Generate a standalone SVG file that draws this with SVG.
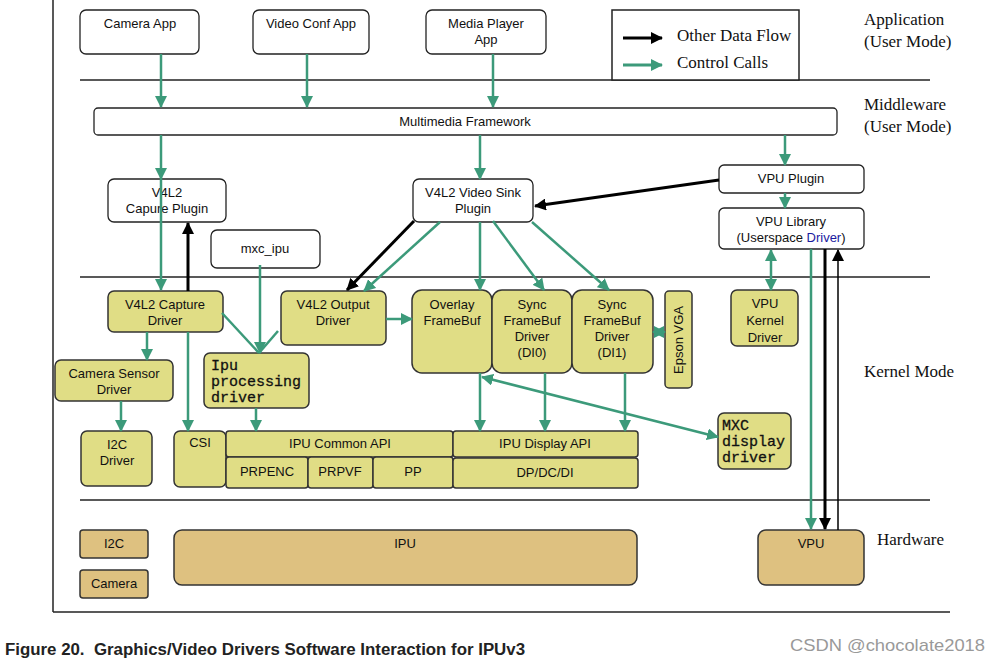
<svg xmlns="http://www.w3.org/2000/svg" width="999" height="661" viewBox="0 0 999 661">
<defs>
<marker id="ga" markerUnits="userSpaceOnUse" markerWidth="12" markerHeight="12" viewBox="0 0 12 12" refX="11" refY="6" orient="auto-start-reverse"><path d="M0,0 L12,6 L0,12 z" fill="#3c9a7a"/></marker>
<marker id="ba" markerUnits="userSpaceOnUse" markerWidth="12" markerHeight="12" viewBox="0 0 12 12" refX="11" refY="6" orient="auto-start-reverse"><path d="M0,0 L12,6 L0,12 z" fill="#000"/></marker>
<style>
.w{fill:#fff;stroke:#222;stroke-width:1.3}
.y{fill:#e0dd85;stroke:#333;stroke-width:1.5}
.t{fill:#dec180;stroke:#333;stroke-width:1.5}
.s{font-family:"Liberation Sans",Arial,sans-serif;font-size:13px;fill:#111;text-anchor:middle}
.m{font-family:"Liberation Mono","Courier New",monospace;font-size:15px;fill:#111;stroke:#111;stroke-width:0.3}
.r{font-family:"Liberation Serif","Times New Roman",serif;font-size:17px;fill:#111}
.g{stroke:#3c9a7a;stroke-width:2.5;fill:none}
.gm{stroke:#3c9a7a;stroke-width:2.5;fill:none;marker-end:url(#ga)}
.gd{stroke:#3c9a7a;stroke-width:2.5;fill:none;marker-end:url(#ga);marker-start:url(#ga)}
.bm{stroke:#000;stroke-width:3;fill:none;marker-end:url(#ba)}
.ln{stroke:#222;stroke-width:1.5}
</style>
</defs>
<rect width="999" height="661" fill="#fff"/>
<g id="frame">
<line class="ln" x1="53" y1="0" x2="53" y2="612"/>
<line class="ln" x1="53" y1="612" x2="950" y2="612"/>
<line class="ln" x1="80" y1="80" x2="930" y2="80"/>
<line class="ln" x1="80" y1="277" x2="930" y2="277"/>
<line class="ln" x1="80" y1="500" x2="930" y2="500"/>
</g>
<g id="legend">
<rect x="612" y="10" width="187" height="70" fill="#fff" stroke="#222" stroke-width="1.5"/>
<line x1="623" y1="38" x2="662" y2="38" class="bm"/>
<line x1="623" y1="65" x2="662" y2="65" class="gm" style="stroke-width:3"/>
<text class="r" x="677" y="41">Other Data Flow</text>
<text class="r" x="677" y="68">Control Calls</text>
</g>
<g id="layer-labels">
<text class="r" x="864" y="25">Application</text>
<text class="r" x="864" y="47">(User Mode)</text>
<text class="r" x="864" y="110">Middleware</text>
<text class="r" x="864" y="132">(User Mode)</text>
<text class="r" x="864" y="377">Kernel Mode</text>
<text class="r" x="877" y="545">Hardware</text>
</g>
<g id="camera-app"><rect class="w" x="80" y="10" width="119" height="44" rx="6"/><text class="s" x="140" y="28">Camera App</text></g>
<g id="video-conf-app"><rect class="w" x="253" y="10" width="116" height="44" rx="6"/><text class="s" x="311" y="28">Video Conf App</text></g>
<g id="media-player-app"><rect class="w" x="426" y="10" width="120" height="44" rx="6"/><text class="s" x="486" y="28">Media Player</text><text class="s" x="486" y="44">App</text></g>
<g id="multimedia-framework"><rect class="w" x="94" y="108" width="743" height="27" rx="4"/><text class="s" x="465" y="126">Multimedia Framework</text></g>
<g id="v4l2-capure-plugin"><rect class="w" x="108" y="179" width="118" height="43" rx="6"/><text class="s" x="167" y="197">V4L2</text><text class="s" x="167" y="213">Capure Plugin</text></g>
<g id="mxc-ipu"><rect class="w" x="211" y="230" width="109" height="38" rx="6"/><text class="s" x="265" y="253">mxc_ipu</text></g>
<g id="v4l2-video-sink-plugin"><rect class="w" x="413" y="179" width="120" height="43" rx="6"/><text class="s" x="473" y="197">V4L2 Video Sink</text><text class="s" x="473" y="213">Plugin</text></g>
<g id="vpu-plugin"><rect class="w" x="719" y="165" width="145" height="28" rx="5"/><text class="s" x="791" y="183">VPU Plugin</text></g>
<g id="vpu-library"><rect class="w" x="719" y="208" width="145" height="41" rx="5"/><text class="s" x="791" y="226">VPU Library</text><text class="s" x="791" y="242">(Userspace <tspan fill="#1a1aa0">Driver</tspan>)</text></g>
<g id="v4l2-capture-driver"><rect class="y" x="108" y="291" width="115" height="41" rx="6"/><text class="s" x="165" y="309">V4L2 Capture</text><text class="s" x="165" y="325">Driver</text></g>
<g id="v4l2-output-driver"><rect class="y" x="281" y="291" width="105" height="54" rx="6"/><text class="s" x="333" y="309">V4L2 Output</text><text class="s" x="333" y="325">Driver</text></g>
<g id="camera-sensor-driver"><rect class="y" x="55" y="360" width="118" height="41" rx="6"/><text class="s" x="114" y="378">Camera Sensor</text><text class="s" x="114" y="394">Driver</text></g>
<g id="ipu-processing-driver"><rect class="y" x="204" y="353" width="105" height="55" rx="6"/><text class="m" x="211" y="370">Ipu</text><text class="m" x="211" y="386">processing</text><text class="m" x="211" y="402">driver</text></g>
<g id="i2c-driver"><rect class="y" x="81" y="431" width="71" height="55" rx="6"/><text class="s" x="117" y="449">I2C</text><text class="s" x="117" y="465">Driver</text></g>
<g id="csi"><rect class="y" x="174" y="431" width="52" height="56" rx="6"/><text class="s" x="200" y="447">CSI</text></g>
<g id="ipu-common-api"><rect class="y" x="226" y="431" width="227" height="26" rx="3"/><text class="s" x="340" y="448">IPU Common API</text></g>
<g id="prpenc"><rect class="y" x="226" y="457" width="82" height="31" rx="3"/><text class="s" x="267" y="476">PRPENC</text></g>
<g id="prpvf"><rect class="y" x="308" y="457" width="65" height="31" rx="3"/><text class="s" x="340" y="476">PRPVF</text></g>
<g id="pp"><rect class="y" x="373" y="457" width="80" height="31" rx="3"/><text class="s" x="413" y="476">PP</text></g>
<g id="ipu-display-api"><rect class="y" x="453" y="431" width="185" height="26" rx="3"/><text class="s" x="545" y="448">IPU Display API</text></g>
<g id="dp-dc-di"><rect class="y" x="453" y="458" width="185" height="30" rx="3"/><text class="s" x="545" y="477">DP/DC/DI</text></g>
<g id="overlay-framebuf"><rect class="y" x="412" y="290" width="80" height="83" rx="10"/><text class="s" x="452" y="309">Overlay</text><text class="s" x="452" y="325">FrameBuf</text></g>
<g id="sync-framebuf-di0"><rect class="y" x="492" y="290" width="80" height="83" rx="10"/><text class="s" x="532" y="309">Sync</text><text class="s" x="532" y="325">FrameBuf</text><text class="s" x="532" y="341">Driver</text><text class="s" x="532" y="357">(DI0)</text></g>
<g id="sync-framebuf-di1"><rect class="y" x="572" y="290" width="81" height="83" rx="10"/><text class="s" x="612" y="309">Sync</text><text class="s" x="612" y="325">FrameBuf</text><text class="s" x="612" y="341">Driver</text><text class="s" x="612" y="357">(DI1)</text></g>
<g id="epson-vga"><rect class="y" x="665" y="291" width="27" height="97" rx="4"/><text class="s" transform="translate(683 340) rotate(-90)">Epson VGA</text></g>
<g id="vpu-kernel-driver"><rect class="y" x="731" y="290" width="67" height="56" rx="6"/><text class="s" x="765" y="308">VPU</text><text class="s" x="765" y="325">Kernel</text><text class="s" x="765" y="342">Driver</text></g>
<g id="mxc-display-driver"><rect class="y" x="718" y="413" width="73" height="56" rx="6"/><text class="m" x="722" y="430">MXC</text><text class="m" x="722" y="446">display</text><text class="m" x="722" y="462">driver</text></g>
<g id="hw-i2c"><rect class="t" x="80" y="530" width="68" height="28" rx="3"/><text class="s" x="114" y="548">I2C</text></g>
<g id="hw-camera"><rect class="t" x="80" y="570" width="68" height="28" rx="3"/><text class="s" x="114" y="588">Camera</text></g>
<g id="hw-ipu"><rect class="t" x="174" y="530" width="463" height="55" rx="8"/><text class="s" x="405" y="548">IPU</text></g>
<g id="hw-vpu"><rect class="t" x="758" y="530" width="106" height="55" rx="8"/><text class="s" x="811" y="548">VPU</text></g>
<g id="connectors">
<line class="gm" x1="161" y1="54" x2="161" y2="107"/>
<line class="gm" x1="307" y1="54" x2="307" y2="107"/>
<line class="gm" x1="493" y1="54" x2="493" y2="107"/>
<line class="gm" x1="161" y1="135" x2="161" y2="179"/>
<line class="gm" x1="161" y1="179" x2="161" y2="290"/>
<line class="gm" x1="480" y1="135" x2="480" y2="179"/>
<line class="gm" x1="785" y1="135" x2="785" y2="165"/>
<line class="gm" x1="785" y1="193" x2="785" y2="208"/>
<line class="bm" x1="188" y1="291" x2="188" y2="223"/>
<line class="bm" x1="719" y1="180" x2="535" y2="206"/>
<line class="bm" x1="414" y1="221" x2="347" y2="290"/>
<line class="gm" x1="440" y1="222" x2="364" y2="291"/>
<line class="gm" x1="480" y1="222" x2="480" y2="290"/>
<line class="gm" x1="493" y1="221" x2="544" y2="290"/>
<line class="gm" x1="532" y1="222" x2="609" y2="290"/>
<line class="gm" x1="260" y1="265" x2="260" y2="353"/>
<line class="g" x1="222" y1="313" x2="259" y2="353"/>
<line class="g" x1="278" y1="331" x2="259" y2="353"/>
<line class="gm" x1="147" y1="332" x2="147" y2="360"/>
<line class="gm" x1="188" y1="332" x2="188" y2="431"/>
<line class="gm" x1="121" y1="401" x2="121" y2="431"/>
<line class="gm" x1="256" y1="408" x2="256" y2="431"/>
<line class="gm" x1="386" y1="319" x2="412" y2="319"/>
<line class="gd" x1="482" y1="377" x2="718" y2="437"/>
<line class="gm" x1="480" y1="373" x2="480" y2="431"/>
<line class="gm" x1="545" y1="373" x2="545" y2="431"/>
<line class="gm" x1="625" y1="373" x2="625" y2="431"/>
<line class="gd" x1="653" y1="332" x2="665" y2="332" style="stroke-width:2"/>
<line class="gd" x1="771" y1="250" x2="771" y2="290"/>
<line class="gm" x1="811" y1="249" x2="811" y2="529"/>
<line class="bm" x1="825" y1="249" x2="825" y2="529"/>
<line x1="838" y1="530" x2="838" y2="250" stroke="#000" stroke-width="1.5" marker-end="url(#ba)"/>
</g>
<g id="caption">
<text x="5" y="655" font-family="'Liberation Sans',Arial,sans-serif" font-size="16" font-weight="bold" fill="#222" textLength="520" lengthAdjust="spacingAndGlyphs">Figure 20.&#160; Graphics/Video Drivers Software Interaction for IPUv3</text>
<text x="790" y="651" font-family="'Liberation Sans',Arial,sans-serif" font-size="17" fill="#999" textLength="195" lengthAdjust="spacingAndGlyphs">CSDN @chocolate2018</text>
</g>
</svg>
